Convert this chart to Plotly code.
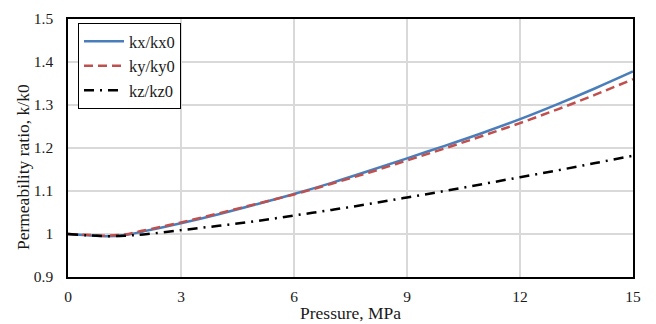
import plotly.graph_objects as go

pressure = [0, 0.5, 1, 1.5, 2, 3, 4, 5, 6, 7, 8, 9, 10, 11, 12, 13, 14, 15]
kx = [1.000, 0.997, 0.995, 0.997, 1.006, 1.025, 1.046, 1.069, 1.093, 1.119, 1.147, 1.176,
      1.205, 1.235, 1.267, 1.302, 1.339, 1.378]
ky = [1.000, 0.998, 0.996, 0.999, 1.008, 1.027, 1.048, 1.070, 1.092, 1.117, 1.143, 1.171,
      1.199, 1.228, 1.258, 1.290, 1.324, 1.360]
kz = [1.000, 0.997, 0.995, 0.996, 0.999, 1.009, 1.019, 1.030, 1.043, 1.056, 1.070, 1.085,
      1.100, 1.116, 1.132, 1.148, 1.165, 1.182]

x_ticks = [0, 3, 6, 9, 12, 15]
y_ticks = [0.9, 1.0, 1.1, 1.2, 1.3, 1.4, 1.5]
y_tick_labels = ["0.9", "1", "1.1", "1.2", "1.3", "1.4", "1.5"]
x_title = "Pressure, MPa"
y_title = "Permeability ratio, k/k0"

font = "Liberation Serif"
txt = "#1a1a1a"

fig = go.Figure()
fig.add_trace(go.Scatter(x=pressure, y=kx, mode="lines", name="kx/kx0",
                         line=dict(color="#4a7ebb", width=2.5, shape="spline")))
fig.add_trace(go.Scatter(x=pressure, y=ky, mode="lines", name="ky/ky0",
                         line=dict(color="#c0504d", width=2.5, dash="9px,5px", shape="spline")))
fig.add_trace(go.Scatter(x=pressure, y=kz, mode="lines", name="kz/kz0",
                         line=dict(color="#000000", width=2.5, dash="10px,6px,2px,6px", shape="spline")))

fig.update_layout(
    width=656, height=324,
    margin=dict(l=68, r=23, t=19, b=47),
    paper_bgcolor="white", plot_bgcolor="white",
    font=dict(family=font, size=15.5, color=txt),
    showlegend=True,
    legend=dict(x=0.0177, y=0.984, xanchor="left", yanchor="top",
                bordercolor="black", borderwidth=1, bgcolor="white",
                font=dict(family=font, size=16.5, color=txt),
                tracegroupgap=0, itemwidth=40),
    xaxis=dict(range=[0, 15], tickvals=x_ticks, showgrid=True, gridcolor="#d9d9d9", gridwidth=1.5,
               showline=True, linecolor="black", linewidth=1.5, mirror=True,
               ticks="", zeroline=False, automargin=False, ticklabelstandoff=5),
    yaxis=dict(range=[0.9, 1.5], tickvals=y_ticks, ticktext=y_tick_labels,
               showgrid=True, gridcolor="#d9d9d9", gridwidth=1.5,
               showline=True, linecolor="black", linewidth=1.5, mirror=True,
               ticks="", zeroline=False, automargin=False, ticklabelstandoff=10),
    annotations=[
        dict(text=x_title, xref="paper", yref="paper", x=0.5, y=0, xanchor="center",
             yanchor="middle", yshift=-36, showarrow=False, font=dict(family=font, size=17.5, color=txt)),
        dict(text=y_title, xref="paper", yref="paper", x=0, y=0.426, xanchor="center",
             yanchor="middle", xshift=-45, textangle=-90, showarrow=False,
             font=dict(family=font, size=17.5, color=txt)),
    ],
)

fig.write_html("out.html")
